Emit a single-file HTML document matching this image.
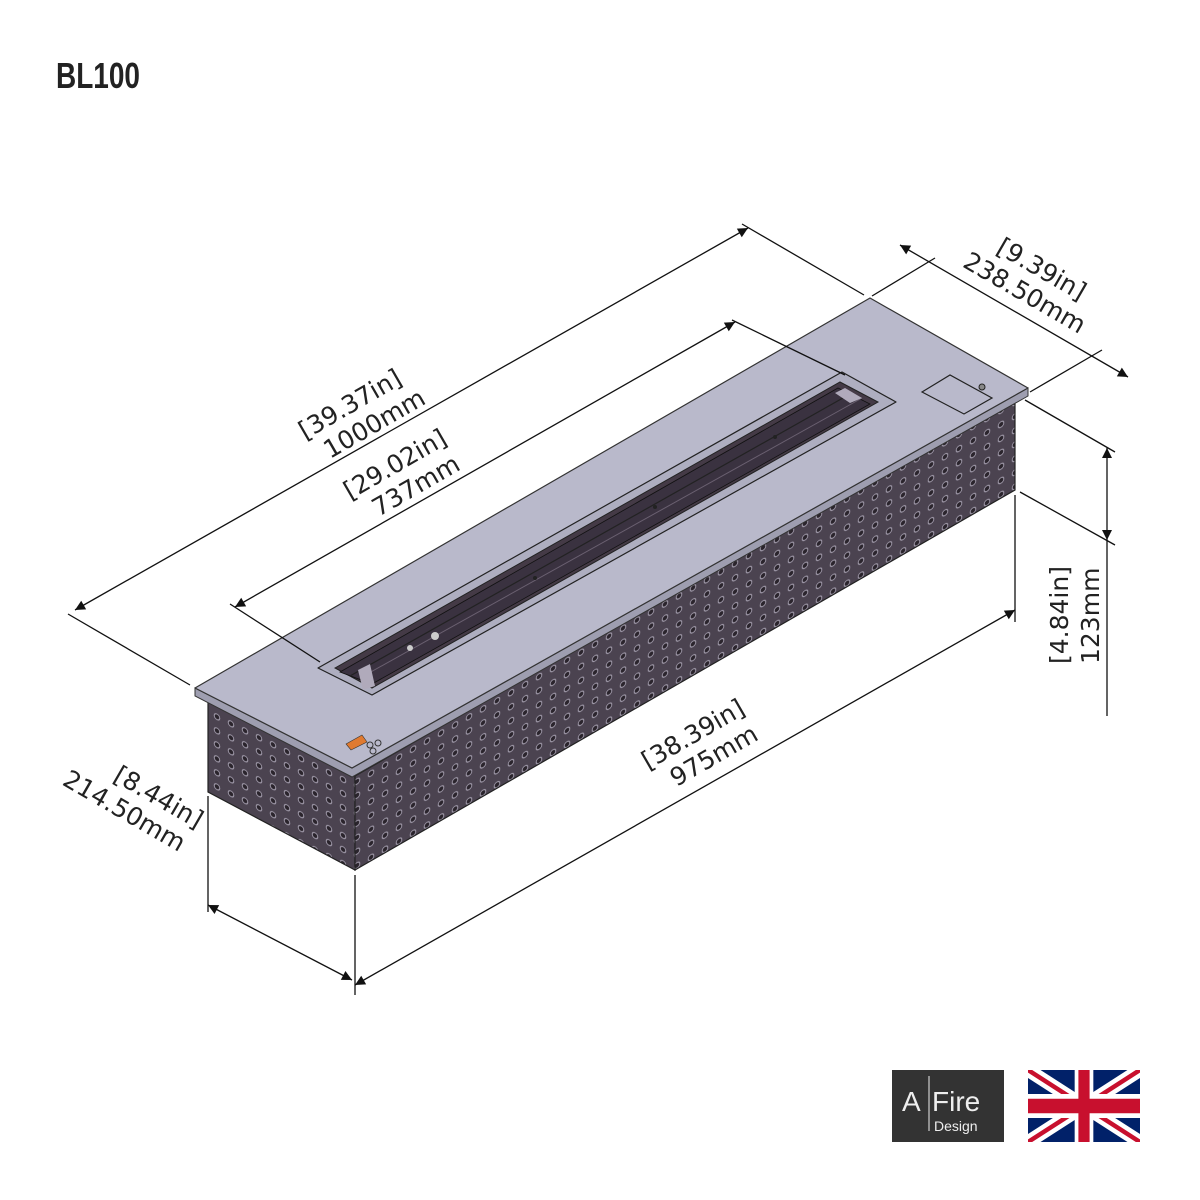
<!DOCTYPE html>
<html><head><meta charset="utf-8"><style>
html,body{margin:0;padding:0;background:#fff;}
svg{display:block}
text{font-family:"DejaVu Sans","Liberation Sans",sans-serif;fill:#222}
</style></head><body>
<svg width="1200" height="1200" viewBox="0 0 1200 1200" xmlns="http://www.w3.org/2000/svg">
<defs>
<pattern id="pf" width="14" height="14" patternUnits="userSpaceOnUse" patternTransform="matrix(1,-0.576,0,1,0,0)">
<rect width="14" height="14" fill="#4b4350"/>
<circle cx="7" cy="7" r="2.8" fill="#2a242c" stroke="#a49eae" stroke-width="1"/>
</pattern>
<pattern id="pl" width="14" height="14" patternUnits="userSpaceOnUse" patternTransform="matrix(1,0.497,0,1,0,0)">
<rect width="14" height="14" fill="#4b4350"/>
<circle cx="7" cy="7" r="2.8" fill="#2a242c" stroke="#a49eae" stroke-width="1"/>
</pattern>
<marker id="ar" viewBox="0 0 10 10" refX="10" refY="5" markerWidth="20" markerHeight="10" orient="auto-start-reverse" markerUnits="userSpaceOnUse"><path d="M0,0 L10,5 L0,10 z" fill="#111"/></marker>
</defs>

<text x="56" y="88" font-weight="bold" font-size="36" style="font-family:'Liberation Sans Narrow','Liberation Sans',sans-serif" textLength="84" lengthAdjust="spacingAndGlyphs">BL100</text>

<polygon points="208,702 355,776 355,870 208,792" fill="url(#pl)" stroke="#222" stroke-width="1.2"/>
<polygon points="355,776 1015,398 1015,490 355,870" fill="url(#pf)" stroke="#222" stroke-width="1.2"/>
<polygon points="195,688 352,768 1028,388 1028,396 352,777 195,696" fill="#9e9eb0" stroke="#333" stroke-width="1"/>
<polygon points="195,688 870,298 1028,388 352,768" fill="#b9b9cb" stroke="#333" stroke-width="1.2" stroke-linejoin="round"/>
<polygon points="318,668 842,372 896,402 372,695" fill="#aeaec0" stroke="#222" stroke-width="1.2" stroke-linejoin="round"/>
<polygon points="335,668 840,382 878,402 372,688" fill="#443a46" stroke="#222" stroke-width="1"/>
<polygon points="340,672 838,388 870,404 372,684" fill="#3a3240" stroke="#111" stroke-width="0.8"/>
<line x1="350" y1="676" x2="850" y2="394" stroke="#222" stroke-width="1.2"/>
<line x1="360" y1="678" x2="862" y2="398" stroke="#6a6070" stroke-width="1"/>
<polygon points="358,670 370,664 375,686 363,690" fill="#b0aabb"/>
<polygon points="835,393 845,388 862,398 850,403" fill="#b0aabb"/>
<circle cx="410" cy="648" r="3" fill="#ccc"/><circle cx="435" cy="636" r="4" fill="#ccc"/>
<circle cx="535" cy="578" r="2" fill="#222"/><circle cx="655" cy="507" r="2" fill="#222"/><circle cx="775" cy="437" r="2" fill="#222"/>
<polygon points="922,392 950,375 992,398 964,414" fill="#b9b9cb" stroke="#222" stroke-width="1.2"/>
<circle cx="982" cy="387" r="3" fill="#888" stroke="#222"/>
<polygon points="346,744 362,735 367,742 351,750" fill="#e07a30" stroke="#333" stroke-width="0.6"/>
<circle cx="370" cy="745" r="3" fill="none" stroke="#333"/><circle cx="378" cy="743" r="3" fill="none" stroke="#333"/><circle cx="373" cy="751" r="3" fill="none" stroke="#333"/>

<g stroke="#111" stroke-width="1.3" fill="none">
<line x1="190" y1="685" x2="68" y2="614"/>
<line x1="864" y1="295" x2="742" y2="224"/>
<line x1="75" y1="610" x2="748" y2="228" marker-start="url(#ar)" marker-end="url(#ar)"/>
<line x1="320" y1="662" x2="230" y2="604"/>
<line x1="845" y1="375" x2="732" y2="320"/>
<line x1="235" y1="607" x2="735" y2="322" marker-start="url(#ar)" marker-end="url(#ar)"/>
<line x1="872" y1="296" x2="935" y2="258"/>
<line x1="1030" y1="392" x2="1102" y2="350"/>
<line x1="900" y1="245" x2="1128" y2="377" marker-start="url(#ar)" marker-end="url(#ar)"/>
<line x1="1025" y1="400" x2="1115" y2="452"/>
<line x1="1020" y1="492" x2="1115" y2="545"/>
<line x1="1107" y1="448" x2="1107" y2="540" marker-start="url(#ar)" marker-end="url(#ar)"/>
<line x1="1107" y1="540" x2="1107" y2="716"/>
<line x1="1015" y1="495" x2="1015" y2="622"/>
<line x1="355" y1="875" x2="355" y2="995"/>
<line x1="355" y1="985" x2="1015" y2="610" marker-start="url(#ar)" marker-end="url(#ar)"/>
<line x1="208" y1="796" x2="208" y2="912"/>
<line x1="208" y1="905" x2="352" y2="980" marker-start="url(#ar)" marker-end="url(#ar)"/>
</g>

<g font-size="25">
<g transform="translate(305,440) rotate(-30)"><text x="0" y="0">[39.37in]</text><text x="12" y="29">1000mm</text></g>
<g transform="translate(350,500) rotate(-30)"><text x="0" y="0">[29.02in]</text><text x="16" y="29">737mm</text></g>
<g transform="translate(995,252) rotate(30)"><text x="0" y="0">[9.39in]</text><text x="-22" y="29">238.50mm</text></g>
<g transform="translate(1068,664) rotate(-90)"><text x="0" y="0">[4.84in]</text><text x="0" y="31">123mm</text></g>
<g transform="translate(648,770) rotate(-30)"><text x="0" y="0">[38.39in]</text><text x="16" y="29">975mm</text></g>
<g transform="translate(112,780) rotate(30)"><text x="0" y="0">[8.44in]</text><text x="-42" y="29">214.50mm</text></g>
</g>

<rect x="892" y="1070" width="112" height="72" fill="#333"/>
<text x="902" y="1111" font-size="28" style="fill:#eee;font-family:'Liberation Sans',sans-serif">A</text>
<line x1="929" y1="1076" x2="929" y2="1131" stroke="#eee" stroke-width="1"/>
<text x="932" y="1111" font-size="28" style="fill:#eee;font-family:'Liberation Sans',sans-serif">Fire</text>
<text x="934" y="1131" font-size="14" style="fill:#eee;font-family:'Liberation Sans',sans-serif">Design</text>

<svg x="1028" y="1070" width="112" height="72" viewBox="0 0 60 30" preserveAspectRatio="none">
<rect width="60" height="30" fill="#012169"/>
<path d="M0,0 L60,30 M60,0 L0,30" stroke="#fff" stroke-width="6"/>
<path d="M0,0 L60,30 M60,0 L0,30" stroke="#C8102E" stroke-width="2"/>
<path d="M30,0 V30 M0,15 H60" stroke="#fff" stroke-width="10"/>
<path d="M30,0 V30 M0,15 H60" stroke="#C8102E" stroke-width="6"/>
</svg>
</svg>
</body></html>
